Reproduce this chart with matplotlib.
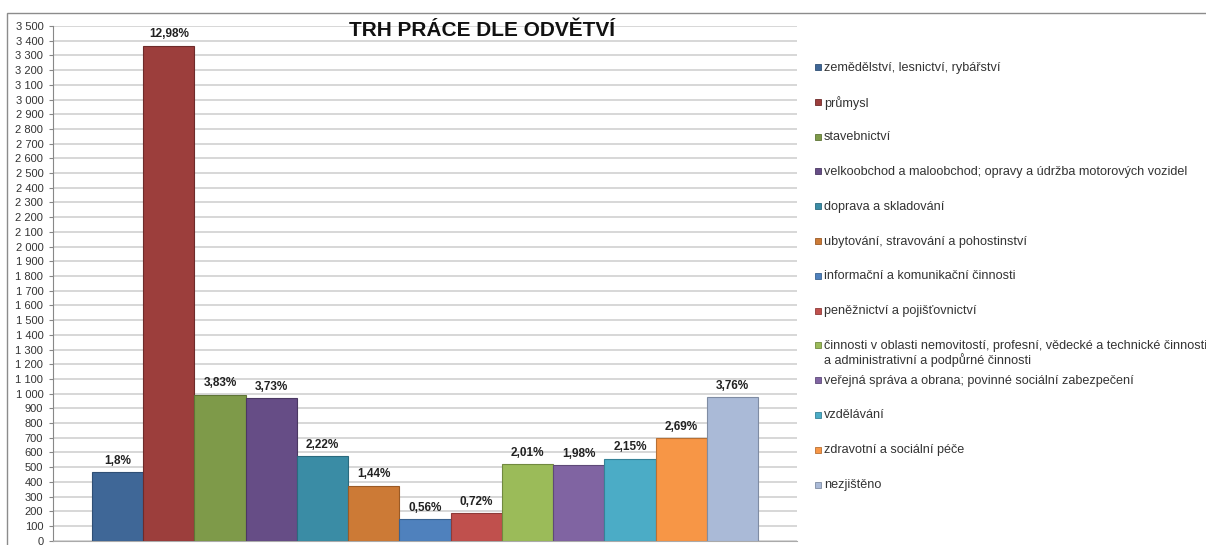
import matplotlib.pyplot as plt
from matplotlib.patches import Rectangle
from matplotlib.ticker import MultipleLocator, FuncFormatter

plt.rcParams["font.family"] = ["Liberation Sans", "DejaVu Sans"]

SECTORS = [
    "zemědělství, lesnictví, rybářství",
    "průmysl",
    "stavebnictví",
    "velkoobchod a maloobchod; opravy a údržba motorových vozidel",
    "doprava a skladování",
    "ubytování, stravování a pohostinství",
    "informační a komunikační činnosti",
    "peněžnictví a pojišťovnictví",
    "činnosti v oblasti nemovitostí, profesní, vědecké a technické činnosti\na administrativní a podpůrné činnosti",
    "veřejná správa a obrana; povinné sociální zabezpečení",
    "vzdělávání",
    "zdravotní a sociální péče",
    "nezjištěno",
]
COUNTS = [466, 3364, 993, 967, 575, 373, 145, 187, 521, 513, 557, 697, 974]
SHARES = ["1,8%", "12,98%", "3,83%", "3,73%", "2,22%", "1,44%", "0,56%",
          "0,72%", "2,01%", "1,98%", "2,15%", "2,69%", "3,76%"]

COLORS = ["#3F6797", "#9C3E3C", "#7E9A49", "#664D86", "#3A8CA5", "#CC7A36",
          "#4F81BD", "#C0504D", "#9BBB59", "#8064A2", "#4BACC6", "#F79646",
          "#AABAD7"]
EDGES = ["#2F4F75", "#6E2B2A", "#5E7436", "#4A3862", "#2A6A7E", "#9A5A25",
         "#3A6290", "#8E3B39", "#71893F", "#5E4A78", "#368297", "#B87034",
         "#7F8CA3"]

fig = plt.figure(figsize=(12.06, 5.45), dpi=100)
ax = fig.add_axes([53 / 1206, 1 - 540.7 / 545, 744 / 1206, 514.7 / 545])

x = list(range(len(COUNTS)))
bars = ax.bar(x, COUNTS, width=1.0, color=COLORS, edgecolor=EDGES,
              linewidth=0.8, zorder=3)
for b, lab in zip(bars, SHARES):
    ax.annotate(lab, (b.get_x() + b.get_width() / 2, b.get_height()),
                xytext=(0, 4), textcoords="offset points", ha="center",
                va="bottom", fontsize=8.5, fontweight="bold", color="#222222")

ax.set_xlim(-0.5 - 0.76, len(COUNTS) - 0.5 + 0.76)
ax.set_ylim(0, 3500)
ax.yaxis.set_major_locator(MultipleLocator(100))
ax.yaxis.set_major_formatter(FuncFormatter(lambda v, p: f"{int(v):,}".replace(",", " ")))
ax.tick_params(axis="y", labelsize=8, length=3, color="#888888", pad=4,
               labelcolor="#333333")
ax.set_xticks([])
ax.grid(axis="y", color="#D4D4D4", linewidth=1.3, zorder=0)
for s in ["top", "right"]:
    ax.spines[s].set_visible(False)
ax.spines["left"].set_color("#888888")
ax.spines["bottom"].set_color("#AAAAAA")

fig.text(482 / 1206, 1 - 31 / 545, "TRH PRÁCE DLE ODVĚTVÍ", ha="center",
         va="center", fontsize=15, fontweight="bold", color="#111111")

# legend drawn by hand to match the spacing of the original
for i, (name, c, e) in enumerate(zip(SECTORS, COLORS, EDGES)):
    yc = 67 + 34.8 * i
    fig.patches.append(Rectangle((815 / 1206, 1 - (yc + 3) / 545), 6 / 1206, 6 / 545,
                                 transform=fig.transFigure, facecolor=c,
                                 edgecolor=e, linewidth=0.6))
    fig.text(824 / 1206, 1 - (yc - 5.5) / 545, name, ha="left", va="top",
             fontsize=9.1, color="#333333", linespacing=1.1)

# outer chart frame
fig.patches.append(Rectangle((7 / 1206, -0.1), 1.2, 1 - 13 / 545 + 0.1,
                             transform=fig.transFigure, fill=False,
                             edgecolor="#8C8C8C", linewidth=1.0))

plt.savefig("out.png", dpi=100)
